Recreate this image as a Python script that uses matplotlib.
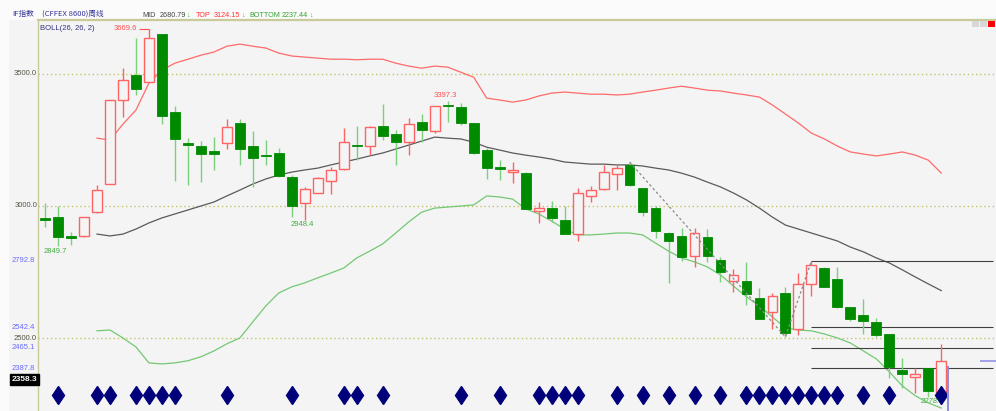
import matplotlib
matplotlib.use('Agg')
import matplotlib.pyplot as plt
import matplotlib.transforms as mtransforms
from matplotlib.patches import Rectangle
import numpy as np

plt.rcParams['font.family'] = ['Liberation Sans', 'DejaVu Sans']

# weekly candles
opens = [2953, 2958, 2886, 2887, 2977, 3083, 3400, 3494, 3468, 3649,
         3355, 3236, 3226, 3208, 3238, 3313, 3226, 3194, 3200, 3109,
         3011, 3049, 3094, 3140, 3232, 3226, 3302, 3272, 3242, 3317,
         3283, 3381, 3374, 3313, 3211, 3147, 3130, 3125, 2981, 2992,
         2947, 2894, 3038, 3064, 3121, 3155, 3068, 2992, 2898, 2887,
         2811, 2883, 2796, 2717, 2717, 2653, 2600, 2672, 2536, 2706,
         2766, 2725, 2619, 2589, 2562, 2517, 2381, 2355, 2389, 2294]
closes = [2949, 2883, 2880, 2958, 3060, 3400, 3475, 3442, 3634, 3340,
          3253, 3232, 3196, 3196, 3298, 3215, 3181, 3189, 3113, 3000,
          3064, 3106, 3136, 3242, 3226, 3298, 3264, 3242, 3309, 3287,
          3377, 3377, 3313, 3200, 3143, 3140, 3134, 2989, 2992, 2955,
          2894, 3049, 3060, 3128, 3143, 3079, 2977, 2906, 2868, 2808,
          2898, 2811, 2751, 2740, 2668, 2574, 2660, 2521, 2706, 2777,
          2694, 2619, 2574, 2566, 2513, 2392, 2366, 2366, 2302, 2415]
highs = [3011, 3000, 2902, 2960, 3079, 3400, 3521, 3634, 3669.6, 3649,
         3377, 3257, 3245, 3260, 3328, 3328, 3283, 3249, 3219, 3117,
         3072, 3109, 3147, 3294, 3302, 3302, 3385, 3287, 3332, 3347,
         3377, 3397.3, 3389, 3313, 3219, 3174, 3166, 3128, 3015, 3019,
         3000, 3068, 3075, 3155, 3155, 3166, 3068, 3000, 2902, 2917,
         2917, 2913, 2808, 2762, 2789, 2691, 2672, 2694, 2747, 2792.8,
         2770, 2770, 2619, 2649, 2577, 2517, 2426, 2389, 2389, 2479]
lows = [2921, 2849.7, 2853, 2883, 2974, 3083, 3336, 3419, 3468, 3309,
        3094, 3079, 3091, 3136, 3215, 3155, 3072, 3155, 3109, 2958,
        2948.4, 3049, 3045, 3136, 3174, 3192, 3249, 3155, 3192, 3242,
        3275, 3317, 3306, 3196, 3102, 3098, 3087, 2989, 2936, 2940,
        2894, 2868, 3015, 3060, 3060, 3075, 2962, 2879, 2709, 2792,
        2770, 2789, 2713, 2675, 2626, 2574, 2536, 2506, 2513, 2660,
        2694, 2615, 2566, 2517, 2506, 2351, 2313, 2294, 2278.7, 2294]

# BOLL(26,26,2), first value at candle 4
boll_start = 4
top_band = [3256, 3249, 3309, 3362, 3464, 3513, 3539, 3554, 3569, 3581,
            3603, 3611, 3603, 3596, 3577, 3566, 3562, 3558, 3554, 3554,
            3552, 3554, 3554, 3539, 3528, 3520, 3528, 3524, 3505, 3486,
            3407, 3400, 3392, 3400, 3415, 3426, 3430, 3426, 3422, 3422,
            3419, 3422, 3430, 3437, 3445, 3452, 3445, 3437, 3434, 3426,
            3419, 3411, 3381, 3347, 3313, 3275, 3253, 3226, 3204, 3196,
            3189, 3196, 3204, 3192, 3173, 3124.15]
mid_band = [2894, 2887, 2894, 2913, 2936, 2955, 2970, 2985, 3000, 3015,
            3038, 3060, 3083, 3102, 3117, 3128, 3136, 3143, 3155, 3166,
            3177, 3189, 3200, 3215, 3230, 3245, 3260, 3256, 3253, 3241,
            3222, 3211, 3200, 3192, 3185, 3177, 3166, 3162, 3158, 3158,
            3155, 3155, 3151, 3143, 3136, 3124, 3109, 3090, 3072, 3049,
            3023, 2992, 2958, 2928, 2913, 2898, 2883, 2868, 2845, 2827,
            2804, 2785, 2759, 2732, 2706, 2680.79]
bot_band = [2529, 2532, 2502, 2468, 2408, 2404, 2408, 2416, 2431, 2453,
            2480, 2502, 2563, 2623, 2672, 2695, 2710, 2729, 2747, 2766,
            2804, 2830, 2857, 2898, 2940, 2977, 2992, 2996, 3000, 3004,
            3038, 3034, 3026, 2989, 2970, 2943, 2913, 2891, 2891, 2894,
            2898, 2898, 2891, 2860, 2830, 2804, 2789, 2770, 2740, 2698,
            2657, 2623, 2581, 2540, 2532, 2529, 2517, 2502, 2483, 2453,
            2423, 2374, 2321, 2284, 2257, 2237.44]

signal_idx = [1, 4, 5, 7, 8, 9, 10, 14, 19, 23, 24, 26, 32, 35, 38, 39, 40,
              41, 44, 46, 48, 50, 52, 54, 55, 56, 57, 58, 59, 60, 61, 63, 65, 69]

trend_idx = [45, 57, 59]
trend_val = [3166, 2506, 2792.8]

level_start = 59
levels = [2792.8, 2542.4, 2465.1, 2387.8]
level_labels = ['2792.8', '2542.4', '2465.1', '2387.8']
grid_vals = [3500, 3000, 2500]
last_price = 2358.3

W, H = 996, 411
fig = plt.figure(figsize=(W / 100, H / 100), dpi=100, facecolor='#fbfbfb')
fig.patches.append(Rectangle((9 / W, 0), 29 / W, 391 / H, transform=fig.transFigure,
                             facecolor='#f4f4f4', edgecolor='none', zorder=-5))
ax = fig.add_axes([38 / W, 0, 958 / W, 391 / H])
ax.set_facecolor('#f4f4f4')
ax.set_xlim(-0.54, 73.21)
ax.set_ylim(2226.4, 3701.9)
ax.set_xticks([])
ax.set_yticks([])
for s in ['right', 'bottom']:
    ax.spines[s].set_visible(False)
ax.spines['top'].set_color('#c9c99a')
ax.spines['top'].set_linewidth(1.6)
ax.spines['left'].set_color('#c9c99a')
ax.spines['left'].set_linewidth(1.0)

for g in grid_vals:
    ax.axhline(g, color='#c4c46e', lw=1.0, ls=(0, (1, 2)), zorder=1)

UP = '#ff6464'
DN_BODY = '#008a00'
DN_WICK = '#7ccf7c'
bw = 0.76
for i, (o, c, h, l) in enumerate(zip(opens, closes, highs, lows)):
    top, bot = max(o, c), min(o, c)
    if c >= o:
        ax.vlines(i, top, h, color=UP, lw=1.0, zorder=3)
        ax.vlines(i, l, bot, color=UP, lw=1.0, zorder=3)
        ax.add_patch(Rectangle((i - bw / 2, bot), bw, max(top - bot, 1.5),
                               facecolor='#f4f4f4', edgecolor=UP, lw=1.0, zorder=4))
    else:
        ax.vlines(i, top, h, color=DN_WICK, lw=1.0, zorder=3)
        ax.vlines(i, l, bot, color=DN_WICK, lw=1.0, zorder=3)
        ax.add_patch(Rectangle((i - bw / 2, bot), bw, max(top - bot, 3),
                               facecolor=DN_BODY, edgecolor=DN_BODY, lw=0.6, zorder=4))

bx = np.arange(boll_start, boll_start + len(mid_band))
ax.plot(bx, top_band, color='#ff6a6a', lw=0.9, zorder=2)
ax.plot(bx, mid_band, color='#5a5a5a', lw=0.9, zorder=2)
ax.plot(bx, bot_band, color='#74c874', lw=0.9, zorder=2)

ax.plot(trend_idx, trend_val, color='#8a8a8a', lw=0.9, ls=(0, (2, 2)), zorder=5)

for lv in levels:
    ax.hlines(lv, level_start, 73.0, color='#404040', lw=0.8, zorder=2)

# signal diamonds along the bottom
sig_tr = mtransforms.blended_transform_factory(ax.transData, ax.transAxes)
ax.plot(signal_idx, [0.041] * len(signal_idx), ls='none', marker='d',
        markersize=9.5, color='#00007a', transform=sig_tr, zorder=6)

# marker for current bar
ax.vlines(69.5, 2226.4, 2397, color='#8c8cdc', lw=1.4, zorder=6)
ax.hlines(2416, 72.0, 73.21, color='#a0a0e8', lw=1.4, zorder=6)

# value tags
fs = 5.5
ax.text(7.1, 3669.6, '3669.6', color='#ff5050', fontsize=fs, ha='right', va='center')
ax.hlines(3669.6, 7.2, 8.0, color='#ff5050', lw=0.8)
ax.text(30.8, 3416, '3397.3', color='#ff5050', fontsize=fs, ha='center', va='center')
ax.text(19.8, 2932, '2948.4', color='#40b040', fontsize=fs, ha='center', va='center')
ax.text(0.8, 2830, '2849.7', color='#40b040', fontsize=fs, ha='center', va='center')
ax.text(68.3, 2261, '2278.7', color='#40b040', fontsize=fs, ha='center', va='center',
        style='italic')

ax.text(0.002, 0.987, 'BOLL(26, 26, 2)', transform=ax.transAxes, color='#303080',
        fontsize=fs, ha='left', va='top')

# y labels at left
ltr = mtransforms.blended_transform_factory(ax.transAxes, ax.transData)
for g in grid_vals:
    ax.text(-0.001, g, f'{g:.1f}', transform=ltr, color='#555544', fontsize=fs,
            ha='right', va='center', clip_on=False, zorder=7)
for lv, lab in zip(levels, level_labels):
    ax.text(-0.028, lv, lab, transform=ltr, color='#6a6aff', fontsize=fs,
            ha='left', va='center', clip_on=False, zorder=7)
ax.text(-0.0275, last_price, f'{last_price:.1f}', transform=ltr, color='white',
        fontsize=6, fontweight='bold', ha='left', va='top', clip_on=False, zorder=7,
        bbox=dict(boxstyle='square,pad=0.25', facecolor='black', edgecolor='black'))

# header
fam = ['Noto Sans CJK SC', 'DejaVu Sans']
hy = 1 - 14 / H
fig.text(12 / W, hy, 'IF指数', color='#333399', fontsize=5.5, family=fam, va='center')
fig.text(42 / W, hy, '(CFFEX 8600)周线', color='#333399', fontsize=5.5, family=fam, va='center')
hy2 = 1 - 15.5 / H
hfs = 5.2
fig.text(142 / W, hy2, 'MID', color='#444444', fontsize=hfs, va='center')
fig.text(160 / W, hy2, '2680.79', color='#444444', fontsize=hfs, va='center')
fig.text(186 / W, hy2, '↓', color='#40b040', fontsize=hfs, va='center')
fig.text(196 / W, hy2, 'TOP', color='#ff3030', fontsize=hfs, va='center')
fig.text(214 / W, hy2, '3124.15', color='#ff3030', fontsize=hfs, va='center')
fig.text(241 / W, hy2, '↓', color='#40b040', fontsize=hfs, va='center')
fig.text(249 / W, hy2, 'BOTTOM', color='#30a030', fontsize=hfs, va='center')
fig.text(282 / W, hy2, '2237.44', color='#30a030', fontsize=hfs, va='center')
fig.text(309 / W, hy2, '↓', color='#40b040', fontsize=hfs, va='center')

# tiny window buttons top right
for bxp, col in [(972, '#d8d8d8'), (980, '#d8d8d8'), (988, '#ff0000')]:
    fig.patches.append(Rectangle((bxp / W, 1 - 27 / H), 7 / W, 6 / H,
                                 transform=fig.transFigure, facecolor=col,
                                 edgecolor='none', zorder=5))

fig.savefig('out.png', dpi=100, facecolor=fig.get_facecolor())
